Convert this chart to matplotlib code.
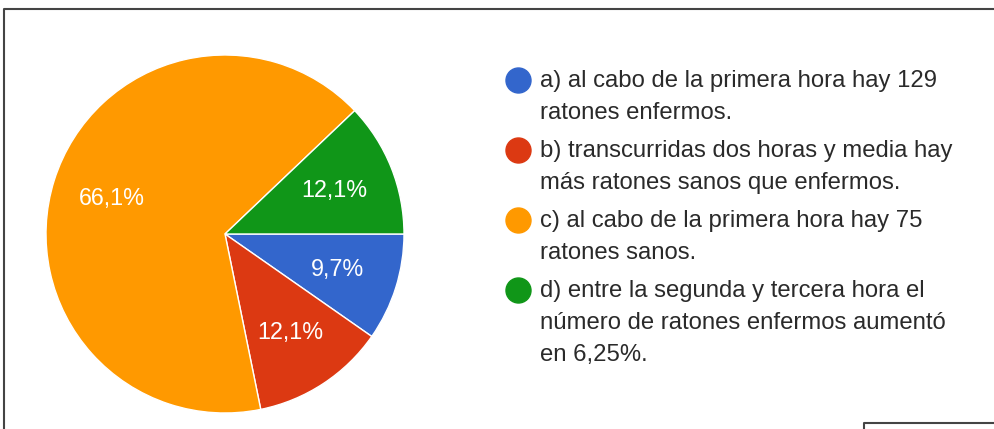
import matplotlib.pyplot as plt
from matplotlib.lines import Line2D

plt.rcParams['font.family'] = ['Liberation Sans', 'DejaVu Sans']

labels = [
    "a) al cabo de la primera hora hay 129\nratones enfermos.",
    "b) transcurridas dos horas y media hay\nmás ratones sanos que enfermos.",
    "c) al cabo de la primera hora hay 75\nratones sanos.",
    "d) entre la segunda y tercera hora el\nnúmero de ratones enfermos aumentó\nen 6,25%.",
]
shares = [9.7, 12.1, 66.1, 12.1]
pct_text = ["9,7%", "12,1%", "66,1%", "12,1%"]
colors = ['#3366cc', '#dc3912', '#ff9900', '#109618']

W, H = 995, 429
fig = plt.figure(figsize=(W / 100, H / 100), dpi=100)


def fx(px):
    return px / W


def fy(py):
    return 1 - py / H


# pie
cx, cy, r = 225, 234, 179
ax = fig.add_axes([fx(cx - r), fy(cy + r), 2 * r / W, 2 * r / H])
wedges, texts = ax.pie(shares, colors=colors, startangle=0, counterclock=False,
                       labels=pct_text, labeldistance=0.66,
                       wedgeprops=dict(edgecolor='white', linewidth=1),
                       textprops=dict(color='white', fontsize=16.8))
for t in texts:
    t.set_ha('center')
    t.set_va('center')
ax.set_xlim(-1, 1)
ax.set_ylim(-1, 1)
ax.axis('off')

# legend
y0 = 80
for i, (lab, c) in enumerate(zip(labels, colors)):
    ey = y0 + i * 70
    fig.add_artist(Line2D([fx(518)], [fy(ey)], marker='o', markersize=18,
                          color=c, linestyle='none'))
    for j, line in enumerate(lab.split('\n')):
        fig.text(fx(540), fy(ey + j * 32 + 1), line, fontsize=17.2, color='#2a2a2a',
                 ha='left', va='center')

# frame
fig.add_artist(Line2D([fx(4), fx(4), 1], [0, fy(9), fy(9)], color='#444444', lw=1.5))
fig.add_artist(Line2D([fx(864), fx(864), 1], [0, fy(423), fy(423)], color='#444444', lw=1.5))

fig.savefig('out.png', dpi=100)
